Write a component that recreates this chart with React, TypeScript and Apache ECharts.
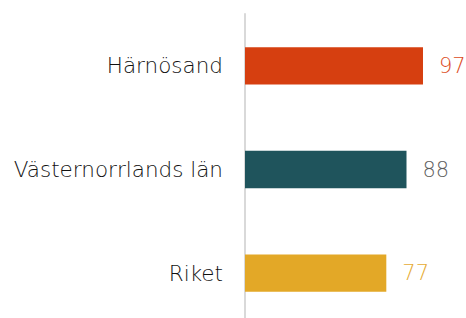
import React, { useEffect, useRef } from "react";
import * as echarts from "echarts";

const categories = ["Härnösand", "Västernorrlands län", "Riket"];
const values = [97, 88, 77];
const barColors = ["#D63F10", "#1F545C", "#E3A827"];
const labelColors = ["#DC4A1A", "#5E5E5E", "#E6AC34"];

export default function App() {
  const ref = useRef<HTMLDivElement>(null);
  useEffect(() => {
    if (!ref.current) return;
    const chart = echarts.init(ref.current, undefined, { renderer: "svg" });
    chart.setOption({
      animation: false,
      grid: { left: 245, right: 37.5, top: 14, bottom: 1, containLabel: false },
      xAxis: {
        type: "value",
        min: 0,
        max: 100,
        show: false,
      },
      yAxis: {
        type: "category",
        data: categories,
        inverse: true,
        axisLine: { show: true, lineStyle: { color: "#D9D9D9", width: 2 } },
        axisTick: { show: false },
        axisLabel: {
          margin: 22,
          fontFamily: "DejaVu Sans",
          fontWeight: 200,
          fontSize: 21.5,
          color: "#111111",
        },
      },
      series: [
        {
          type: "bar",
          barWidth: "36%",
          data: values.map((v, i) => ({
            value: v,
            itemStyle: { color: barColors[i] },
            label: { color: labelColors[i] },
          })),
          label: {
            show: true,
            position: "right",
            distance: 16,
            fontFamily: "DejaVu Sans",
            fontWeight: 200,
            fontSize: 21,
          },
        },
      ],
    });
    return () => chart.dispose();
  }, []);
  return (
    <div style={{ width: 466, height: 318, overflow: "hidden", position: "absolute", left: 0, top: 0 }}>
      <div ref={ref} style={{ width: 466, height: 326 }} />
    </div>
  );
}
